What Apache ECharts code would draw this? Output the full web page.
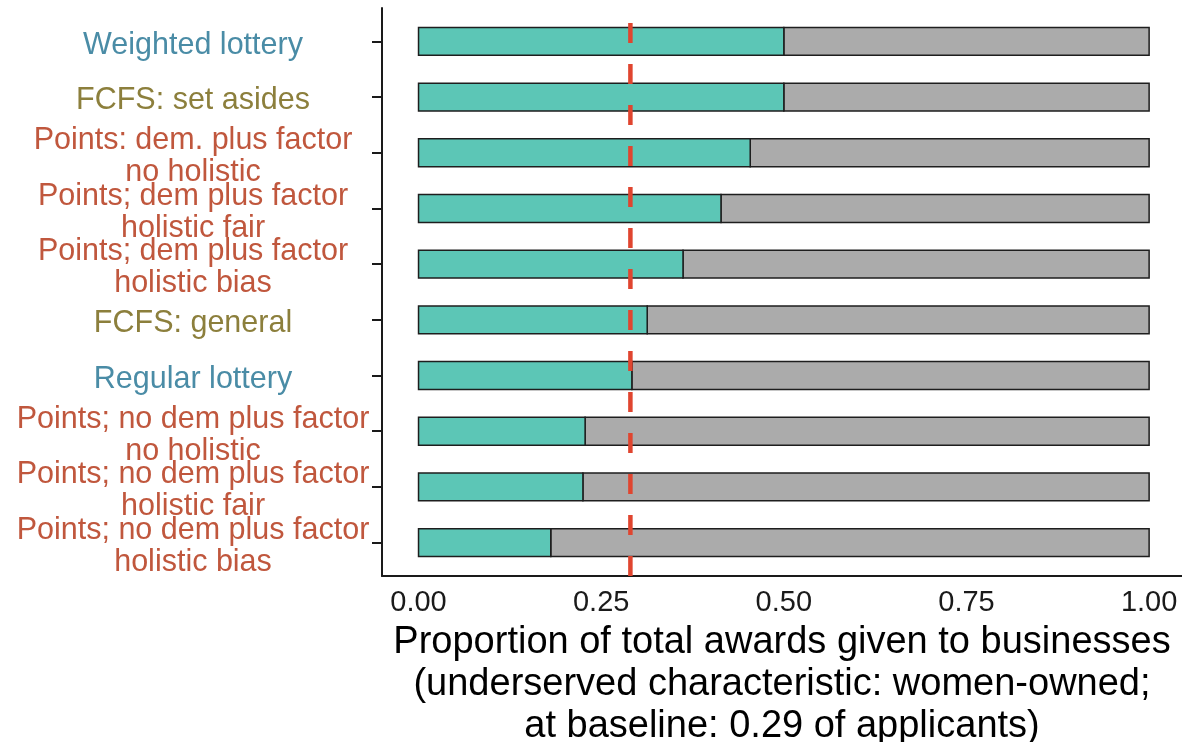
<!DOCTYPE html>
<html>
<head>
<meta charset="utf-8">
<script src="https://cdn.jsdelivr.net/npm/echarts@6/dist/echarts.min.js"></script>
<style>
html,body{margin:0;padding:0;background:#fff;}
#chart{width:1182px;height:742px;}
</style>
</head>
<body>
<div id="chart"></div>
<script>
// ---- data ----
const categories = [
  "Weighted lottery",
  "FCFS: set asides",
  "Points: dem. plus factor\nno holistic",
  "Points; dem plus factor\nholistic fair",
  "Points; dem plus factor\nholistic bias",
  "FCFS: general",
  "Regular lottery",
  "Points; no dem plus factor\nno holistic",
  "Points; no dem plus factor\nholistic fair",
  "Points; no dem plus factor\nholistic bias"
];
const groups = ["lottery","fcfs","points","points","points","fcfs","lottery","points","points","points"];
const shareUnderserved = [0.500, 0.500, 0.454, 0.414, 0.362, 0.313, 0.292, 0.228, 0.225, 0.181];
const totalShare = [1, 1, 1, 1, 1, 1, 1, 1, 1, 1];
const baseline = 0.29;
const xTickValues = [0, 0.25, 0.5, 0.75, 1];
const xTitle = "Proportion of total awards given to businesses\n(underserved characteristic: women-owned;\nat baseline: 0.29 of applicants)";

// ---- styling ----
const groupColors = { lottery: "#4A8CA6", fcfs: "#8C7F3C", points: "#C0573D" };
const tealColor = "#5CC6B6";
const greyColor = "#ABABAB";
const FONT = "'Liberation Sans', Arial, sans-serif";
const yMin = -0.6, yMax = categories.length - 1 + 0.6;
const LABEL_NUDGE = 0.07; // small downward nudge of category labels relative to ticks

const idx = categories.map((_, i) => i);
const evenIdx = idx.filter(i => i % 2 === 0);
const oddIdx = idx.filter(i => i % 2 === 1);
const tealData = idx.map(i => [0, shareUnderserved[i], i]);
const greyData = idx.map(i => [shareUnderserved[i], totalShare[i], i]);

function barRenderer(fill) {
  return function (params, api) {
    const x0 = api.value(0), x1 = api.value(1), y = api.value(2);
    const p0 = api.coord([x0, y]);
    const p1 = api.coord([x1, y]);
    const h = api.size([0, 0.5])[1];
    return {
      type: "rect",
      shape: { x: p0[0], y: p0[1] - h / 2, width: p1[0] - p0[0], height: h },
      style: { fill: fill, stroke: "#1e1e1e", lineWidth: 1.5 }
    };
  };
}

function labelStyle(values) {
  return {
    customValues: values.map(v => v + LABEL_NUDGE),
    formatter: v => categories[Math.round(v)],
    color: v => groupColors[groups[Math.round(v)]],
    fontSize: 30.5,
    lineHeight: 32,
    fontFamily: FONT,
    align: "center",
    margin: 189,
    hideOverlap: false
  };
}

const chart = echarts.init(document.getElementById("chart"), null, { renderer: "canvas" });
chart.setOption({
  backgroundColor: "#ffffff",
  animation: false,
  textStyle: { fontFamily: FONT },
  grid: { left: 382, right: 0, top: 8, bottom: 166, containLabel: false, outerBoundsMode: "none" },
  xAxis: {
    type: "value",
    min: -0.05,
    max: 1.045,
    splitLine: { show: false },
    axisTick: { show: false },
    axisLine: { show: true, onZero: false, lineStyle: { color: "#1a1a1a", width: 2 } },
    axisLabel: {
      customValues: xTickValues,
      formatter: v => v.toFixed(2),
      fontSize: 29,
      fontFamily: FONT,
      color: "#1a1a1a",
      margin: 12,
      hideOverlap: false
    },
    name: xTitle,
    nameLocation: "middle",
    nameGap: 39,
    nameTextStyle: { fontSize: 38, lineHeight: 42, color: "#000", fontFamily: FONT, align: "center", verticalAlign: "top" }
  },
  yAxis: [
    {
      type: "value",
      inverse: true,
      min: yMin,
      max: yMax,
      splitLine: { show: false },
      axisLine: { show: true, onZero: false, lineStyle: { color: "#1a1a1a", width: 2 } },
      axisTick: { show: true, customValues: idx, length: 10, lineStyle: { color: "#1a1a1a", width: 2 } },
      axisLabel: labelStyle(evenIdx)
    },
    {
      type: "value",
      inverse: true,
      min: yMin,
      max: yMax,
      position: "left",
      offset: 0,
      splitLine: { show: false },
      axisLine: { show: false, onZero: false },
      axisTick: { show: false },
      axisLabel: labelStyle(oddIdx)
    }
  ],
  series: [
    {
      type: "custom",
      name: "other",
      renderItem: barRenderer(greyColor),
      encode: { x: [0, 1], y: 2 },
      data: greyData,
      z: 2
    },
    {
      type: "custom",
      name: "underserved",
      renderItem: barRenderer(tealColor),
      encode: { x: [0, 1], y: 2 },
      data: tealData,
      z: 3
    },
    {
      type: "line",
      name: "baseline",
      data: [[baseline, yMax], [baseline, yMin]],
      symbol: "none",
      lineStyle: { color: "#E0452F", width: 4.5, type: [20, 21], cap: "butt" },
      z: 5,
      silent: true
    }
  ]
});
</script>
</body>
</html>
